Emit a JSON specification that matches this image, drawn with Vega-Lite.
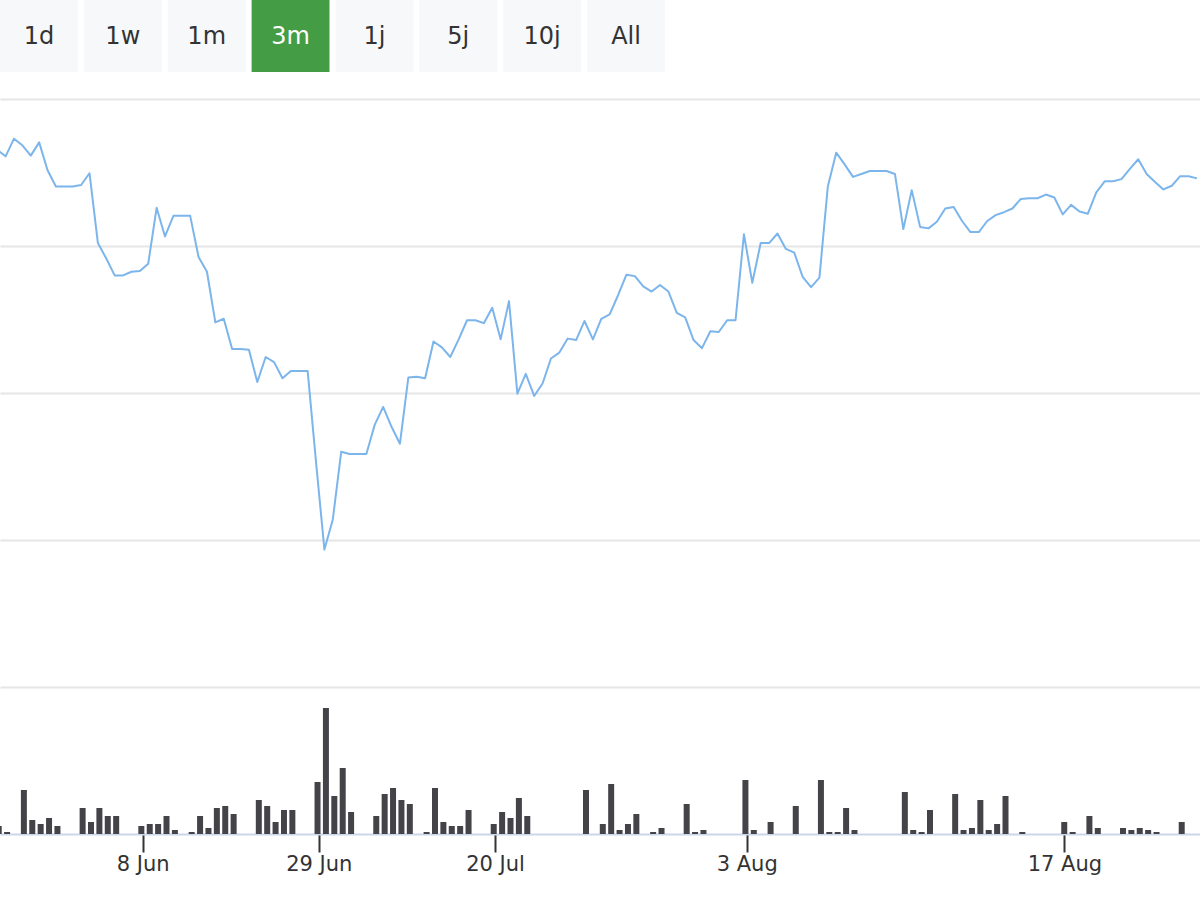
{
  "$schema": "https://vega.github.io/schema/vega-lite/v6.json",
  "padding": {"left": 0, "top": 0, "right": 0, "bottom": 12},
  "background": "white",
  "config": {
    "view": {"stroke": null},
    "font": "DejaVu Sans"
  },
  "datasets": {
    "buttons": [
      {"label": "1d", "state": "normal"},
      {"label": "1w", "state": "normal"},
      {"label": "1m", "state": "normal"},
      {"label": "3m", "state": "active"},
      {"label": "1j", "state": "normal"},
      {"label": "5j", "state": "normal"},
      {"label": "10j", "state": "normal"},
      {"label": "All", "state": "normal"}
    ],
    "series": [
      {"i":0,"price":47.31,"volume":2000},{"i":1,"price":47.22,"volume":500},{"i":2,"price":47.46,"volume":0},{"i":3,"price":47.37,"volume":11000},
      {"i":4,"price":47.23,"volume":3500},{"i":5,"price":47.41,"volume":2500},{"i":6,"price":47.03,"volume":4000},{"i":7,"price":46.81,"volume":2000},
      {"i":8,"price":46.81,"volume":0},{"i":9,"price":46.81,"volume":0},{"i":10,"price":46.83,"volume":6500},{"i":11,"price":46.99,"volume":3000},
      {"i":12,"price":46.04,"volume":6500},{"i":13,"price":45.83,"volume":4500},{"i":14,"price":45.60,"volume":4500},{"i":15,"price":45.60,"volume":0},
      {"i":16,"price":45.65,"volume":0},{"i":17,"price":45.66,"volume":2000},{"i":18,"price":45.76,"volume":2500},{"i":19,"price":46.52,"volume":2500},
      {"i":20,"price":46.13,"volume":4500},{"i":21,"price":46.41,"volume":1000},{"i":22,"price":46.41,"volume":0},{"i":23,"price":46.41,"volume":500},
      {"i":24,"price":45.85,"volume":4500},{"i":25,"price":45.65,"volume":1500},{"i":26,"price":44.96,"volume":6500},{"i":27,"price":45.01,"volume":7000},
      {"i":28,"price":44.60,"volume":5000},{"i":29,"price":44.60,"volume":0},{"i":30,"price":44.59,"volume":0},{"i":31,"price":44.15,"volume":8500},
      {"i":32,"price":44.49,"volume":7000},{"i":33,"price":44.42,"volume":3000},{"i":34,"price":44.20,"volume":6000},{"i":35,"price":44.30,"volume":6000},
      {"i":36,"price":44.30,"volume":0},{"i":37,"price":44.30,"volume":0},{"i":38,"price":43.06,"volume":13000},{"i":39,"price":41.87,"volume":31500},
      {"i":40,"price":42.28,"volume":9500},{"i":41,"price":43.20,"volume":16500},{"i":42,"price":43.17,"volume":5500},{"i":43,"price":43.17,"volume":0},
      {"i":44,"price":43.17,"volume":0},{"i":45,"price":43.57,"volume":4500},{"i":46,"price":43.81,"volume":10000},{"i":47,"price":43.54,"volume":11500},
      {"i":48,"price":43.31,"volume":8500},{"i":49,"price":44.21,"volume":7500},{"i":50,"price":44.22,"volume":0},{"i":51,"price":44.20,"volume":500},
      {"i":52,"price":44.70,"volume":11500},{"i":53,"price":44.62,"volume":3000},{"i":54,"price":44.49,"volume":2000},{"i":55,"price":44.73,"volume":2000},
      {"i":56,"price":44.99,"volume":6000},{"i":57,"price":44.99,"volume":0},{"i":58,"price":44.95,"volume":0},{"i":59,"price":45.16,"volume":2500},
      {"i":60,"price":44.73,"volume":5500},{"i":61,"price":45.25,"volume":4000},{"i":62,"price":43.99,"volume":9000},{"i":63,"price":44.26,"volume":4500},
      {"i":64,"price":43.96,"volume":0},{"i":65,"price":44.13,"volume":0},{"i":66,"price":44.47,"volume":0},{"i":67,"price":44.55,"volume":0},
      {"i":68,"price":44.74,"volume":0},{"i":69,"price":44.72,"volume":0},{"i":70,"price":44.98,"volume":11000},{"i":71,"price":44.73,"volume":0},
      {"i":72,"price":45.01,"volume":2500},{"i":73,"price":45.07,"volume":12500},{"i":74,"price":45.33,"volume":1000},{"i":75,"price":45.61,"volume":2500},
      {"i":76,"price":45.59,"volume":5000},{"i":77,"price":45.45,"volume":0},{"i":78,"price":45.38,"volume":500},{"i":79,"price":45.47,"volume":1500},
      {"i":80,"price":45.38,"volume":0},{"i":81,"price":45.09,"volume":0},{"i":82,"price":45.03,"volume":7500},{"i":83,"price":44.72,"volume":500},
      {"i":84,"price":44.61,"volume":1000},{"i":85,"price":44.84,"volume":0},{"i":86,"price":44.83,"volume":0},{"i":87,"price":44.99,"volume":0},
      {"i":88,"price":44.99,"volume":0},{"i":89,"price":46.16,"volume":13500},{"i":90,"price":45.50,"volume":1000},{"i":91,"price":46.04,"volume":0},
      {"i":92,"price":46.04,"volume":3000},{"i":93,"price":46.17,"volume":0},{"i":94,"price":45.96,"volume":0},{"i":95,"price":45.91,"volume":7000},
      {"i":96,"price":45.58,"volume":0},{"i":97,"price":45.44,"volume":0},{"i":98,"price":45.57,"volume":13500},{"i":99,"price":46.81,"volume":500},
      {"i":100,"price":47.27,"volume":500},{"i":101,"price":47.11,"volume":6500},{"i":102,"price":46.94,"volume":1000},{"i":103,"price":46.98,"volume":0},
      {"i":104,"price":47.02,"volume":0},{"i":105,"price":47.02,"volume":0},{"i":106,"price":47.02,"volume":0},{"i":107,"price":46.98,"volume":0},
      {"i":108,"price":46.23,"volume":10500},{"i":109,"price":46.76,"volume":1000},{"i":110,"price":46.26,"volume":500},{"i":111,"price":46.24,"volume":6000},
      {"i":112,"price":46.33,"volume":0},{"i":113,"price":46.51,"volume":0},{"i":114,"price":46.53,"volume":10000},{"i":115,"price":46.34,"volume":1000},
      {"i":116,"price":46.19,"volume":1500},{"i":117,"price":46.19,"volume":8500},{"i":118,"price":46.34,"volume":1000},{"i":119,"price":46.42,"volume":2500},
      {"i":120,"price":46.46,"volume":9500},{"i":121,"price":46.51,"volume":0},{"i":122,"price":46.64,"volume":500},{"i":123,"price":46.65,"volume":0},
      {"i":124,"price":46.65,"volume":0},{"i":125,"price":46.70,"volume":0},{"i":126,"price":46.66,"volume":0},{"i":127,"price":46.43,"volume":3000},
      {"i":128,"price":46.56,"volume":500},{"i":129,"price":46.47,"volume":0},{"i":130,"price":46.44,"volume":4500},{"i":131,"price":46.73,"volume":1500},
      {"i":132,"price":46.88,"volume":0},{"i":133,"price":46.88,"volume":0},{"i":134,"price":46.91,"volume":1500},{"i":135,"price":47.05,"volume":1000},
      {"i":136,"price":47.18,"volume":1500},{"i":137,"price":46.98,"volume":1000},{"i":138,"price":46.87,"volume":500},{"i":139,"price":46.77,"volume":0},
      {"i":140,"price":46.82,"volume":0},{"i":141,"price":46.95,"volume":3000},{"i":142,"price":46.95,"volume":0},{"i":143,"price":46.92,"volume":0}
    ]
  },
  "spacing": 27,
  "vconcat": [
    {
      "width": 665,
      "height": 72,
      "data": {"name": "buttons"},
      "encoding": {
        "x": {"field": "label", "type": "nominal", "sort": null, "axis": null,
              "scale": {"paddingInner": 0.0714, "paddingOuter": 0}}
      },
      "layer": [
        {
          "mark": {"type": "bar", "cornerRadius": 0},
          "encoding": {
            "color": {"condition": {"test": "datum.state === 'active'", "value": "#449d44"}, "value": "#f7f8fa"}
          }
        },
        {
          "mark": {"type": "text", "fontSize": 24, "font": "DejaVu Sans", "baseline": "middle", "align": "center", "dy": 1},
          "encoding": {
            "text": {"field": "label"},
            "color": {"condition": {"test": "datum.state === 'active'", "value": "#ffffff"}, "value": "#333333"}
          }
        }
      ]
    },
    {
      "spacing": 0,
      "vconcat": [
        {
          "width": 1200,
          "height": 588,
          "data": {"name": "series"},
          "mark": {"type": "line", "color": "#7cb5ec", "strokeWidth": 2, "clip": true, "strokeJoin": "round"},
          "encoding": {
            "x": {"field": "i", "type": "quantitative", "axis": null,
                  "scale": {"domain": [0.3325, 143.36], "nice": false, "zero": false, "padding": 0}},
            "y": {"field": "price", "type": "quantitative",
                  "scale": {"domain": [40, 48], "nice": false, "zero": false},
                  "axis": {"values": [40, 42, 44, 46, 48], "grid": true, "gridColor": "#e6e6e6", "gridWidth": 2,
                           "labels": false, "ticks": false, "domain": false, "title": null,
                           "minExtent": 0, "maxExtent": 0}}
          }
        },
        {
          "width": 1200,
          "height": 147,
          "data": {"name": "series"},
          "mark": {"type": "bar", "color": "#434348", "width": 6, "xOffset": 1.5, "clip": true},
          "encoding": {
            "x": {"field": "i", "type": "quantitative",
                  "scale": {"domain": [0.3325, 143.36], "nice": false, "zero": false, "padding": 0},
                  "axis": {"values": [17.33, 38.33, 59.33, 89.33, 127.2],
                           "labelExpr": "datum.value < 20 ? '8 Jun' : datum.value < 40 ? '29 Jun' : datum.value < 60 ? '20 Jul' : datum.value < 100 ? '3 Aug' : '17 Aug'",
                           "title": null, "grid": false,
                           "domainColor": "#ccd6eb", "domainWidth": 2,
                           "tickColor": "#333333", "tickWidth": 2, "tickSize": 18,
                           "labelFontSize": 21, "labelFont": "DejaVu Sans", "labelColor": "#333333",
                           "labelPadding": 1, "labelFlush": false, "labelOverlap": false}},
            "y": {"field": "volume", "type": "quantitative", "axis": null,
                  "scale": {"domain": [0, 36750], "nice": false, "zero": true}}
          }
        }
      ]
    }
  ]
}
